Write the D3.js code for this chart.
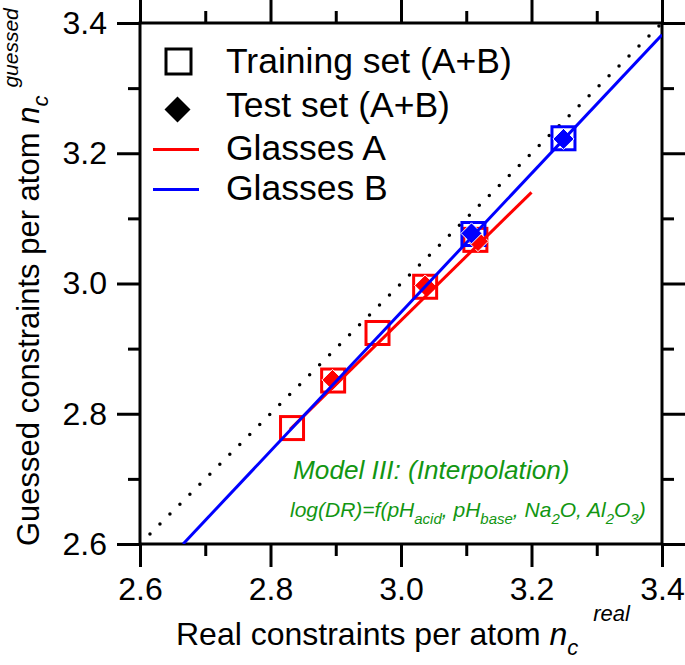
<!DOCTYPE html>
<html>
<head>
<meta charset="utf-8">
<script src="https://cdn.jsdelivr.net/npm/d3@7"></script>
<style>
  html, body { margin: 0; padding: 0; background: #fff; }
  svg { display: block; }
  text { font-family: "Liberation Sans", Arial, Helvetica, sans-serif; }
</style>
</head>
<body>
<svg id="chart" width="685" height="665"></svg>
<script>
// ---- data ----
const majorTicks = [2.6, 2.8, 3.0, 3.2, 3.4];
const minorTicks = [2.7, 2.9, 3.1, 3.3];
const tickLabels = ["2.6", "2.8", "3.0", "3.2", "3.4"];

// Training set (open squares)
const trainA_x = [2.833, 2.896, 2.964, 3.037, 3.114];
const trainA_y = [2.778, 2.851, 2.924, 2.995, 3.067];
const trainB_x = [3.111, 3.249];
const trainB_y = [3.076, 3.223];

// Test set (filled diamonds)
const testA_x = [2.895, 3.037, 3.118];
const testA_y = [2.852, 2.997, 3.065];
const testB_x = [3.108, 3.249];
const testB_y = [3.077, 3.222];

// Fit lines
const fitA_x = [2.83, 3.2];
const fitA_y = [2.776, 3.14];
const fitB_x = [2.666, 3.4];
const fitB_y = [2.6, 3.382];

// Identity (dotted)
const ident = [2.6, 3.4];

const legendLabels = ["Training set (A+B)", "Test set (A+B)", "Glasses A", "Glasses B"];

// ---- drawing ----
const svg = d3.select("#chart");
const x = d3.scaleLinear().domain([2.6, 3.4]).range([140, 662]);
const y = d3.scaleLinear().domain([2.6, 3.4]).range([544, 23]);
const fmt = (d) => tickLabels[majorTicks.indexOf(d)] || "";

const FS = 32;
const green = "#129612";

function styleAxis(g) {
  g.select(".domain").remove();
  g.selectAll("line").attr("stroke", "#000").attr("stroke-width", 3);
  g.selectAll("text").attr("font-size", FS).attr("fill", "#000")
    .style("font-family", "'Liberation Sans', Arial, Helvetica, sans-serif");
}

// bottom
svg.append("g").attr("transform", "translate(0,544)")
  .call(d3.axisBottom(x).tickValues(majorTicks).tickSize(23).tickPadding(10).tickFormat(fmt)).call(styleAxis);
svg.append("g").attr("transform", "translate(0,544)")
  .call(d3.axisBottom(x).tickValues(minorTicks).tickSize(12).tickFormat("")).call(styleAxis);
// top
svg.append("g").attr("transform", "translate(0,23)")
  .call(d3.axisTop(x).tickValues(majorTicks).tickSize(23).tickFormat("")).call(styleAxis);
svg.append("g").attr("transform", "translate(0,23)")
  .call(d3.axisTop(x).tickValues(minorTicks).tickSize(12).tickFormat("")).call(styleAxis);
// left
svg.append("g").attr("transform", "translate(140,0)")
  .call(d3.axisLeft(y).tickValues(majorTicks).tickSize(23).tickPadding(10).tickFormat(fmt)).call(styleAxis);
svg.append("g").attr("transform", "translate(140,0)")
  .call(d3.axisLeft(y).tickValues(minorTicks).tickSize(12).tickFormat("")).call(styleAxis);
// right
svg.append("g").attr("transform", "translate(662,0)")
  .call(d3.axisRight(y).tickValues(majorTicks).tickSize(23).tickFormat("")).call(styleAxis);
svg.append("g").attr("transform", "translate(662,0)")
  .call(d3.axisRight(y).tickValues(minorTicks).tickSize(12).tickFormat("")).call(styleAxis);

// frame
svg.append("rect")
  .attr("x", x(2.6)).attr("y", y(3.4))
  .attr("width", x(3.4) - x(2.6)).attr("height", y(2.6) - y(3.4))
  .attr("fill", "none").attr("stroke", "#000").attr("stroke-width", 3);

// clip
svg.append("clipPath").attr("id", "clip").append("rect")
  .attr("x", x(2.6)).attr("y", y(3.4))
  .attr("width", x(3.4) - x(2.6)).attr("height", y(2.6) - y(3.4));
const plot = svg.append("g").attr("clip-path", "url(#clip)");

// identity dotted line
plot.append("line")
  .attr("x1", x(ident[0])).attr("y1", y(ident[0]))
  .attr("x2", x(ident[1])).attr("y2", y(ident[1]))
  .attr("stroke", "#000").attr("stroke-width", 3.5)
  .attr("stroke-linecap", "round").attr("stroke-dasharray", "0,14.1");

// squares
const SQ = 23;
function squares(xs, ys, color) {
  plot.append("g").selectAll("rect").data(xs.map((d, i) => [d, ys[i]])).join("rect")
    .attr("x", d => x(d[0]) - SQ / 2).attr("y", d => y(d[1]) - SQ / 2)
    .attr("width", SQ).attr("height", SQ)
    .attr("fill", "none").attr("stroke", color).attr("stroke-width", 3);
}
squares(trainA_x, trainA_y, "#ff0000");
squares(trainB_x, trainB_y, "#0000ff");

// diamonds
const DM = 10.5;
const diamondPath = (cx, cy, r) => `M${cx},${cy - r}L${cx + r},${cy}L${cx},${cy + r}L${cx - r},${cy}Z`;
function diamonds(xs, ys, color) {
  plot.append("g").selectAll("path").data(xs.map((d, i) => [d, ys[i]])).join("path")
    .attr("d", d => diamondPath(x(d[0]), y(d[1]), DM))
    .attr("fill", color).attr("stroke", "#fff").attr("stroke-width", 1);
}
diamonds(testA_x, testA_y, "#ff0000");
diamonds(testB_x, testB_y, "#0000ff");

// fit lines
const line = d3.line().x(d => x(d[0])).y(d => y(d[1]));
plot.append("path").datum(fitA_x.map((d, i) => [d, fitA_y[i]]))
  .attr("d", line).attr("fill", "none").attr("stroke", "#ff0000").attr("stroke-width", 3);
plot.append("path").datum(fitB_x.map((d, i) => [d, fitB_y[i]]))
  .attr("d", line).attr("fill", "none").attr("stroke", "#0000ff").attr("stroke-width", 3);

// legend
const LFS = 35.5;
const legY = [73, 117, 160, 200];
const lg = svg.append("g");
lg.append("rect").attr("x", 166).attr("y", 49).attr("width", 25).attr("height", 25)
  .attr("fill", "none").attr("stroke", "#000").attr("stroke-width", 3);
lg.append("path").attr("d", diamondPath(177.5, 109.5, 13)).attr("fill", "#000");
lg.append("line").attr("x1", 153).attr("x2", 199).attr("y1", 149.5).attr("y2", 149.5)
  .attr("stroke", "#ff0000").attr("stroke-width", 3);
lg.append("line").attr("x1", 153).attr("x2", 199).attr("y1", 189.5).attr("y2", 189.5)
  .attr("stroke", "#0000ff").attr("stroke-width", 3);
legendLabels.forEach((t, i) => {
  lg.append("text").attr("x", 226).attr("y", legY[i]).attr("font-size", LFS).text(t);
});

// x title
const xt = svg.append("text").attr("x", 176).attr("y", 645).attr("font-size", FS);
xt.append("tspan").text("Real constraints per atom ");
xt.append("tspan").attr("font-style", "italic").text("n");
xt.append("tspan").attr("font-style", "italic").attr("font-size", 22).attr("dy", 10).text("c");
xt.append("tspan").attr("font-style", "italic").attr("font-size", 22).attr("dx", 15).attr("dy", -34).text("real");

// y title
const yt = svg.append("text").attr("transform", "translate(39,546) rotate(-90)")
  .attr("font-size", 31);
yt.append("tspan").text("Guessed constraints per atom ");
yt.append("tspan").attr("font-style", "italic").text("n");
yt.append("tspan").attr("font-style", "italic").attr("font-size", 22).attr("dy", 9).text("c");
yt.append("tspan").attr("font-style", "italic").attr("font-size", 21).attr("dx", 8).attr("dy", -30).text("guessed");

// annotation
svg.append("text").attr("x", 293).attr("y", 479).attr("font-size", 26.2)
  .attr("font-style", "italic").attr("fill", green).text("Model III: (Interpolation)");
const ann = svg.append("text").attr("x", 290).attr("y", 517).attr("font-size", 21)
  .attr("font-style", "italic").attr("fill", green);
const parts = [["log(DR)=f(pH", 0], ["acid", 1], [", pH", 0], ["base", 1], [", Na", 0], ["2", 1],
  ["O, Al", 0], ["2", 1], ["O", 0], ["3", 1], [")", 0]];
let lvl = 0;
parts.forEach(([t, s]) => {
  const ts = ann.append("tspan").text(t);
  if (s !== lvl) ts.attr("dy", s ? 7 : -7);
  if (s) ts.attr("font-size", 15);
  lvl = s;
});
</script>
</body>
</html>
